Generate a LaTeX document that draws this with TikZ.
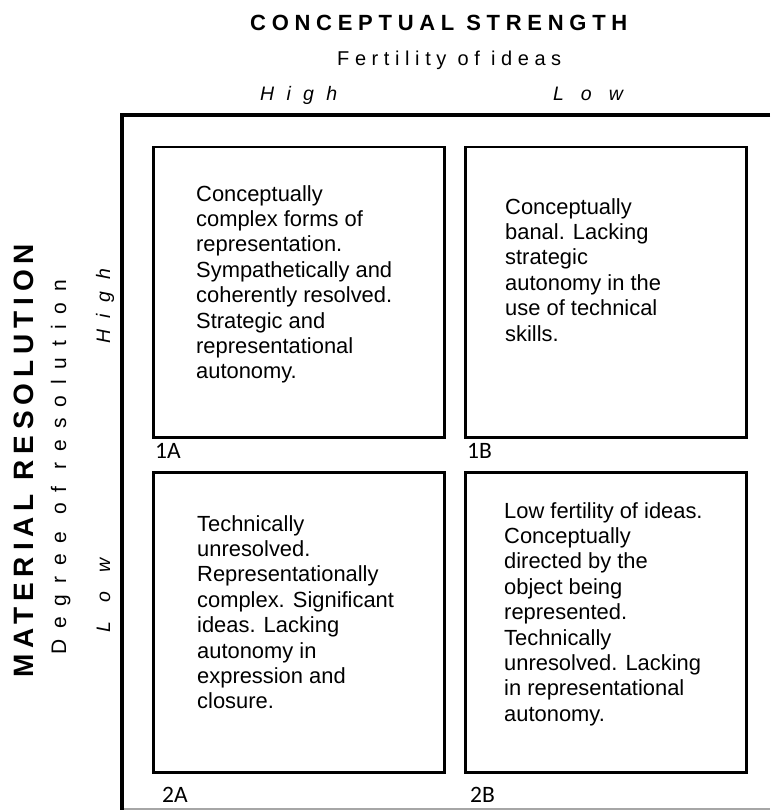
\documentclass[tikz,border=0pt]{standalone}
\usepackage{fontspec}
\setmainfont{Liberation Sans}
\newfontfamily\tagfont{Carlito}
\newcommand{\bodyfont}{\fontsize{21.9}{25.4}\selectfont}
\newcommand{\spaced}[2]{\fontsize{#1}{#1}\selectfont\addfontfeature{LetterSpace=#2}}
\tikzset{
  quad/.style={draw, line width=2.5pt, anchor=north west, inner sep=0pt},
  quadtext/.style={anchor=north west, align=left, inner sep=0pt, font=\bodyfont},
  quadtag/.style={anchor=base west, inner sep=0pt, font=\tagfont\fontsize{23.5}{23.5}\selectfont},
  axistext/.style={anchor=base west, inner sep=0pt},
}
\begin{document}
\begin{tikzpicture}[x=1pt, y=-1pt]
	\useasboundingbox (0,0) rectangle (770,810);

	% Frame
	\draw[line width=4pt] (770,115) -- (122,115) -- (122,810);
	\draw[black!35, line width=1.5pt] (124,809) -- (770,809);

	% Top axis: conceptual strength
	\node[axistext, font={\bfseries\spaced{22}{26}}] (colhead) at (250,31) {CONCEPTUAL STRENGTH};
	\node[axistext, font={\spaced{20}{28}}] (colsub) at (337,66) {Fertility of ideas};
	\node[axistext, font={\itshape\spaced{19.5}{63}}] (colhigh) at (260,101) {High};
	\node[axistext, font={\itshape\spaced{19.5}{87}}] (collow) at (553,101) {Low};

	% Left axis: material resolution
	\node[axistext, rotate=90, font={\bfseries\spaced{28}{21}}] (rowhead) at (33,678) {MATERIAL RESOLUTION};
	\node[axistext, rotate=90, font={\spaced{21}{52}}] (rowsub) at (66,655) {Degree of resolution};
	\node[axistext, rotate=90, font={\itshape\spaced{19.5}{60}}] (rowhigh) at (110,344) {High};
	\node[axistext, rotate=90, font={\itshape\spaced{19.5}{98}}] (rowlow) at (110,633) {Low};

	% Quadrant 1A
	\node[quad, minimum width=291pt, minimum height=290pt] (q1a) at (152,146) {};
	\node[quadtext] (t1a) at (196,185) {Conceptually\\complex forms of\\representation.\\Sympathetically and\\coherently resolved.\\Strategic and\\representational\\autonomy.};
	\node[quadtag] (tag1a) at (155,458) {1A};

	% Quadrant 1B
	\node[quad, minimum width=281pt, minimum height=290pt] (q1b) at (464,146) {};
	\node[quadtext] (t1b) at (505,198) {Conceptually\\banal. Lacking\\strategic\\autonomy in the\\use of technical\\skills.};
	\node[quadtag] (tag1b) at (467,458) {1B};

	% Quadrant 2A
	\node[quad, minimum width=291pt, minimum height=300pt] (q2a) at (152,471) {};
	\node[quadtext] (t2a) at (197,515) {Technically\\unresolved.\\Representationally\\complex. Significant\\ideas. Lacking\\autonomy in\\expression and\\closure.};
	\node[quadtag] (tag2a) at (162,802) {2A};

	% Quadrant 2B
	\node[quad, minimum width=281pt, minimum height=300pt] (q2b) at (464,471) {};
	\node[quadtext] (t2b) at (504,502) {Low fertility of ideas.\\Conceptually\\directed by the\\object being\\represented.\\Technically\\unresolved. Lacking\\in representational\\autonomy.};
	\node[quadtag] (tag2b) at (470,802) {2B};
\end{tikzpicture}
\end{document}
